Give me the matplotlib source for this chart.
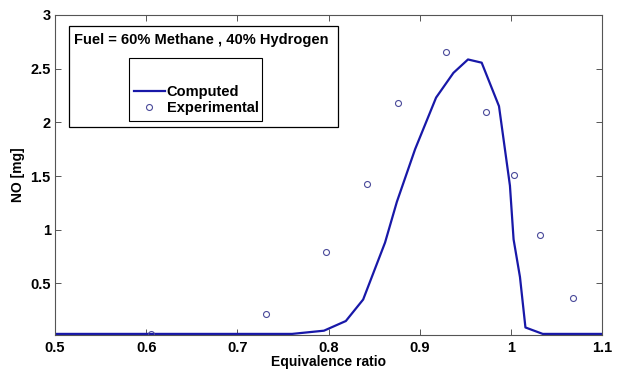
import matplotlib
matplotlib.use("Agg")
import matplotlib.pyplot as plt
from matplotlib.patches import Rectangle

plt.rcParams['font.family'] = ['Liberation Sans', 'DejaVu Sans']
plt.rcParams['font.weight'] = 'bold'

# computed NO curve
phi_calc = [0.50, 0.60, 0.70, 0.76, 0.795, 0.819, 0.838, 0.862, 0.875, 0.895,
            0.918, 0.937, 0.953, 0.968, 0.987, 0.999, 1.003, 1.010, 1.016,
            1.035, 1.10]
no_calc = [0.03, 0.03, 0.03, 0.03, 0.06, 0.15, 0.35, 0.88, 1.26, 1.75,
           2.23, 2.46, 2.585, 2.555, 2.15, 1.41, 0.91, 0.56, 0.09,
           0.03, 0.03]

# measured NO
phi_exp = [0.605, 0.731, 0.797, 0.842, 0.876, 0.929, 0.973, 1.004, 1.032, 1.068]
no_exp = [0.03, 0.22, 0.79, 1.43, 2.18, 2.65, 2.10, 1.51, 0.95, 0.365]

xticks = [0.5, 0.6, 0.7, 0.8, 0.9, 1.0, 1.1]
xtick_labels = ['0.5', '0.6', '0.7', '0.8', '0.9', '1', '1.1']
yticks = [0.5, 1.0, 1.5, 2.0, 2.5, 3.0]
ytick_labels = ['0.5', '1', '1.5', '2', '2.5', '3']

fig = plt.figure(figsize=(6.2, 3.72), dpi=100)
ax = fig.add_axes([0.0887, 0.0995, 0.8823, 0.8605])

ax.plot(phi_calc, no_calc, color='#1818a8', lw=1.6, label='Computed')
ax.plot(phi_exp, no_exp, ls='none', marker='o', ms=4.3, mfc='none',
        mec='#4a4a9a', mew=0.8, label='Experimental')

ax.set_xlim(0.5, 1.1)
ax.set_ylim(0.02, 3)
ax.set_xticks(xticks)
ax.set_xticklabels(xtick_labels)
ax.set_yticks(yticks)
ax.set_yticklabels(ytick_labels)
ax.tick_params(direction='in', top=True, right=True, length=4, width=0.7,
               labelsize=10.5, pad=3, color='#555555')
ax.tick_params(axis='x', pad=4)
for s in ax.spines.values():
    s.set_color('#555555')
    s.set_linewidth(0.8)

ax.set_xlabel('Equivalence ratio', fontsize=10, fontweight='bold', labelpad=0)
ax.set_ylabel('NO [mg]', fontsize=10, fontweight='bold', labelpad=4)

# outer box with the fuel mix
W, H = 620.0, 372.0
fig.patches.append(Rectangle((69 / W, 1 - 127 / H), (338 - 69) / W, (127 - 26) / H,
                             transform=fig.transFigure, fill=False,
                             edgecolor='black', lw=0.9, zorder=5))
fig.text(74 / W, 1 - 40 / H, 'Fuel = 60% Methane , 40% Hydrogen',
         fontsize=10.5, fontweight='bold', va='center', ha='left')

# legend box (taller than its entries, blank space on top)
fig.patches.append(Rectangle((129 / W, 1 - 121 / H), (262 - 129) / W, (121 - 58) / H,
                             transform=fig.transFigure, fill=False,
                             edgecolor='black', lw=0.8, zorder=5))
leg = ax.legend(loc='lower left', bbox_to_anchor=(134 / W, 1 - 115 / H),
                bbox_transform=fig.transFigure, frameon=False, fontsize=10.5,
                handlelength=2.1, handletextpad=0.15, borderpad=0,
                labelspacing=0.15, borderaxespad=0)

fig.savefig('out.png', dpi=100)
